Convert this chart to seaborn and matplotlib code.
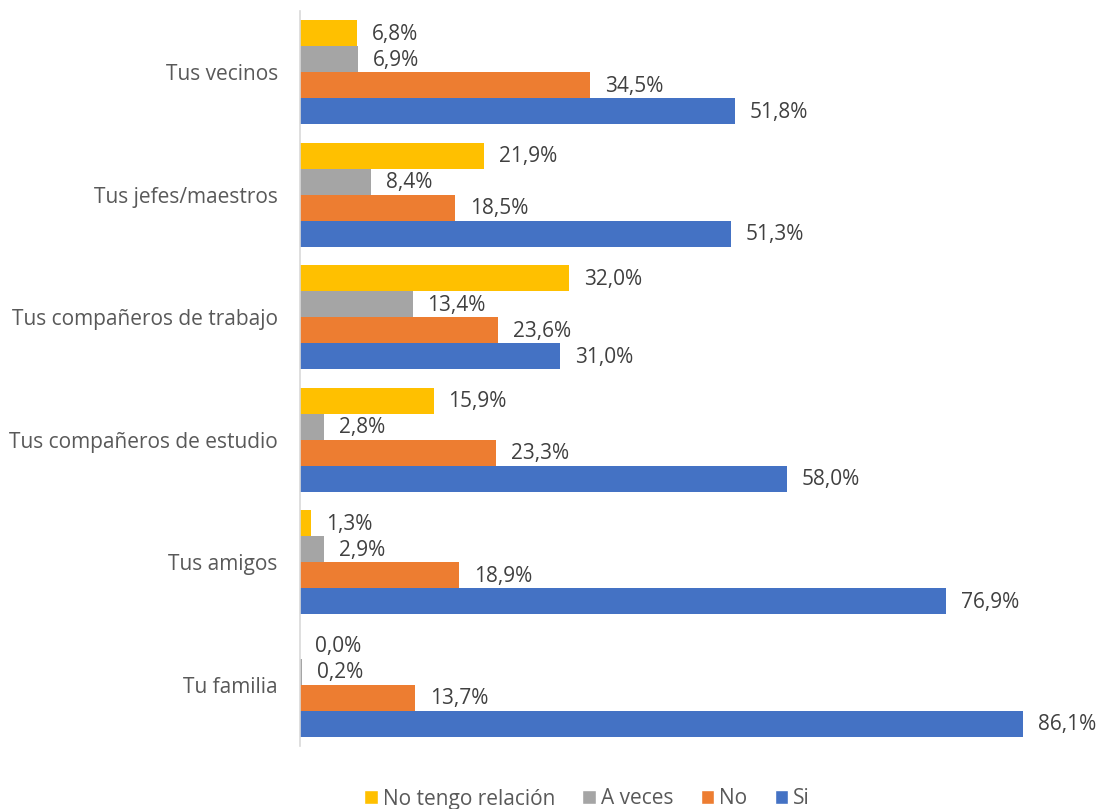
import pandas as pd
import matplotlib.pyplot as plt
import seaborn as sns
from matplotlib.patches import Patch

# DATA
categories = ['Tus vecinos', 'Tus jefes/maestros', 'Tus compañeros de trabajo',
              'Tus compañeros de estudio', 'Tus amigos', 'Tu familia']
series_names = ['No tengo relación', 'A veces', 'No', 'Si']
no_relacion = [6.8, 21.9, 32.0, 15.9, 1.3, 0.0]
a_veces = [6.9, 8.4, 13.4, 2.8, 2.9, 0.2]
no_vals = [34.5, 18.5, 23.6, 23.3, 18.9, 13.7]
si_vals = [51.8, 51.3, 31.0, 58.0, 76.9, 86.1]

colors = ['#FFC000', '#A5A5A5', '#ED7D31', '#4472C4']

rows = []
for name, vals in zip(series_names, [no_relacion, a_veces, no_vals, si_vals]):
    for cat, v in zip(categories, vals):
        rows.append({'Categoria': cat, 'Serie': name, 'Valor': v})
df = pd.DataFrame(rows)

sns.set_style('white')
plt.rcParams['font.family'] = ['Open Sans', 'DejaVu Sans']

fig = plt.figure(figsize=(11.01, 8.09), dpi=100)
ax = fig.add_axes([300 / 1101, 1 - 746 / 809, (1023 - 300) / 1101, 735 / 809])

sns.barplot(data=df, y='Categoria', x='Valor', hue='Serie', order=categories,
            hue_order=series_names, palette=colors, orient='h', width=0.85,
            saturation=1, errorbar=None, legend=False, linewidth=0, ax=ax)

ax.set_xlim(0, 86.1)
ax.set_xlabel('')
ax.set_ylabel('')
ax.set_xticks([])
ax.tick_params(axis='y', length=0, pad=16, labelsize=15, labelcolor='#595959')
for s in ['top', 'right', 'bottom']:
    ax.spines[s].set_visible(False)
ax.spines['left'].set_color('#D9D9D9')
ax.spines['left'].set_linewidth(1.2)

# data labels
for cont in ax.containers:
    for bar in cont:
        w = bar.get_width()
        yc = bar.get_y() + bar.get_height() / 2
        ax.annotate(f'{w:.1f}%'.replace('.', ','), xy=(w, yc), xytext=(15, -1),
                    textcoords='offset pixels', ha='left', va='center',
                    fontsize=15, color='#404040', annotation_clip=False)

handles = [Patch(facecolor=c, label=n) for c, n in zip(colors, series_names)]
fig.legend(handles=handles, loc='center', bbox_to_anchor=(587 / 1101, 1 - 799 / 809),
           ncol=4, frameon=False, fontsize=15, handlelength=0.65, handleheight=0.65,
           handletextpad=0.25, columnspacing=1.3, labelcolor='#595959')

plt.savefig('out.png', dpi=100)
